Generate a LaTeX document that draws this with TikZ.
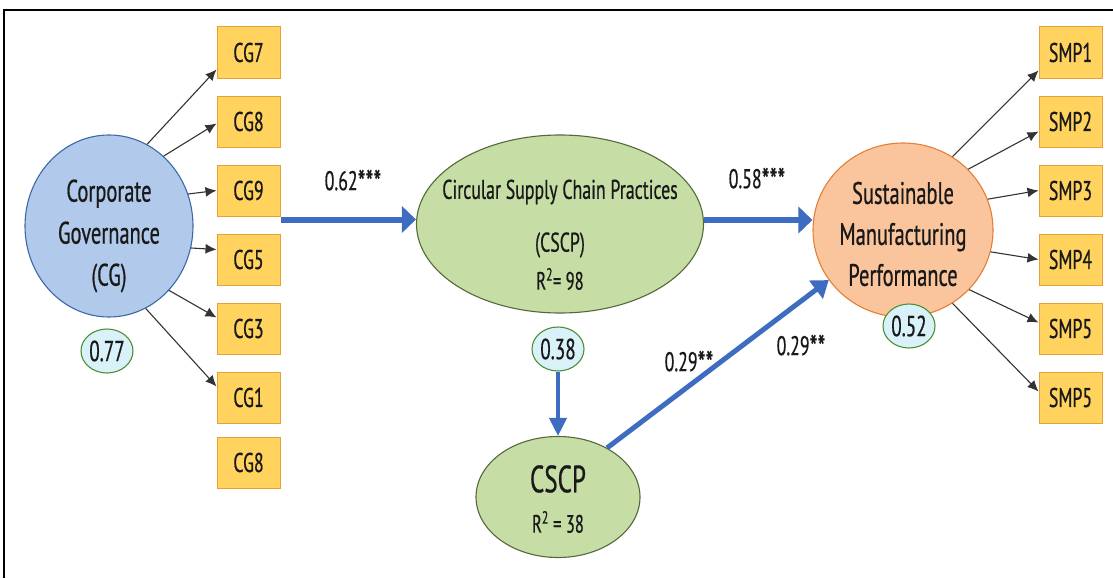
\documentclass[tikz,border=0pt]{standalone}
\usepackage{fontspec}
\setmainfont{PT Sans}[FakeStretch=0.66, FakeBold=0.6]
\usetikzlibrary{positioning,arrows.meta,shapes.geometric}

\definecolor{cgfill}{HTML}{B1C9EA}
\definecolor{cgdraw}{HTML}{3F68A8}
\definecolor{greenfill}{HTML}{C6DEA6}
\definecolor{greendraw}{HTML}{55683A}
\definecolor{smpfill}{HTML}{FAC59C}
\definecolor{smpdraw}{HTML}{E57E36}
\definecolor{boxfill}{HTML}{FFD35E}
\definecolor{boxdraw}{HTML}{E3A23A}
\definecolor{errfill}{HTML}{D9F1F8}
\definecolor{errdraw}{HTML}{4E8F34}
\definecolor{pathblue}{HTML}{3D6CC0}

\newcommand{\sig}[1]{{\fontsize{34}{34}\selectfont\raisebox{-4pt}{#1}}}

\begin{document}
\begin{tikzpicture}[
		x=1pt, y=-1pt,
		latent/.style={ellipse, inner sep=0pt, line width=1.1pt},
		ind/.style={rectangle, draw=boxdraw, fill=boxfill, line width=1pt, minimum width=63pt, minimum height=51pt,
			inner sep=0pt, text=black!90, font=\fontsize{27}{32}\selectfont},
		err/.style={ellipse, draw=errdraw, fill=errfill, line width=1.1pt, minimum width=52pt, minimum height=44pt,
			inner sep=0pt, text=black!90, font=\fontsize{29}{32}\selectfont},
		txt/.style={align=center, inner sep=0pt, text=black!90},
		coef/.style={inner sep=0pt, text=black!90, font=\fontsize{27}{32}\selectfont},
		loadarrow/.style={-{Latex[length=11pt,width=10pt]}, line width=1.1pt, draw=black!80},
		patharrow/.style={-{Triangle[length=14pt,width=26pt]}, line width=6pt, draw=pathblue}
		]
		
		\useasboundingbox (0,0) rectangle (1113,578);
		\draw[line width=1.5pt] (1113,10) -- (4,10) -- (4,578);
		
		% --- LATENT CONSTRUCTS ---
		\node[latent, draw=cgdraw, fill=cgfill, minimum width=168pt, minimum height=182pt] (CG) at (109,226) {};
		\node[txt, font=\fontsize{31}{42}\selectfont] (CG_txt) at (109,236) {Corporate\\Governance\\(CG)};
		
		\node[latent, draw=greendraw, fill=greenfill, minimum width=287pt, minimum height=178pt] (CSCP) at (560,224) {};
		\node[txt, font=\fontsize{27}{32}\selectfont] (CSCP_name) at (560,192) {Circular Supply Chain Practices};
		\node[txt, font=\fontsize{27}{32}\selectfont] (CSCP_abbr) at (560,245) {(CSCP)};
		\node[txt, font=\fontsize{25}{30}\selectfont] (CSCP_r2) at (560,279) {R\textsuperscript{2}= 98};
		
		\node[latent, draw=greendraw, fill=greenfill, minimum width=164pt, minimum height=121pt] (CSCPs) at (558,497) {};
		\node[txt, font=\fontsize{38}{40}\selectfont] (CSCPs_name) at (558,479) {CSCP};
		\node[txt, font=\fontsize{25}{30}\selectfont] (CSCPs_r2) at (558,522) {R\textsuperscript{2} = 38};
		
		\node[latent, draw=smpdraw, fill=smpfill, minimum width=180pt, minimum height=174pt] (SMP) at (903,230) {};
		\node[txt, font=\fontsize{31}{41}\selectfont] (SMP_txt) at (903,234) {Sustainable\\Manufacturing\\Performance};
		
		% --- ERROR / R2 BUBBLES ---
		\node[err] (e_CG) at (107,351) {0.77};
		\node[err] (e_CSCP) at (558,349) {0.38};
		\node[err] (e_SMP) at (909,326) {0.52};
		
		% --- CG INDICATORS ---
		\node[ind] (cg7) at (248.5,52.5) {CG7};
		\node[ind, below=17pt of cg7] (cg8) {CG8};
		\node[ind, below=17pt of cg8] (cg9) {CG9};
		\node[ind, below=17pt of cg9] (cg5) {CG5};
		\node[ind, below=17pt of cg5] (cg3) {CG3};
		\node[ind, below=17pt of cg3] (cg1) {CG1};
		\node[ind, below=13pt of cg1] (cg8b) {CG8};
		
		% --- SMP INDICATORS ---
		\node[ind] (smp1) at (1070.5,52.5) {SMP1};
		\node[ind, below=17pt of smp1] (smp2) {SMP2};
		\node[ind, below=17pt of smp2] (smp3) {SMP3};
		\node[ind, below=17pt of smp3] (smp4) {SMP4};
		\node[ind, below=17pt of smp4] (smp5) {SMP5};
		\node[ind, below=17pt of smp5] (smp5b) {SMP5};
		
		% --- LOADINGS ---
		\draw[loadarrow] (CG.65) -- ([yshift=-17pt]cg7.west);
		\draw[loadarrow] (CG.52) -- ([yshift=-2pt]cg8.west);
		\draw[loadarrow] (CG.22) -- (cg9.west);
		\draw[loadarrow] (CG.-15) -- ([yshift=10pt]cg5.west);
		\draw[loadarrow] (CG.-47) -- ([yshift=11pt]cg3.west);
		\draw[loadarrow] (CG.-66) -- ([yshift=11pt]cg1.west);
		
		\draw[loadarrow] (SMP.56) -- ([yshift=-18pt]smp1.west);
		\draw[loadarrow] (SMP.43) -- ([yshift=-10pt]smp2.west);
		\draw[loadarrow] (SMP.20) -- (smp3.west);
		\draw[loadarrow] (SMP.-14) -- (smp4.west);
		\draw[loadarrow] (SMP.-42) -- ([yshift=6pt]smp5.west);
		\draw[loadarrow] (SMP.-56) -- ([yshift=6pt]smp5b.west);
		
		% --- STRUCTURAL PATHS ---
		\draw[patharrow] ([yshift=-3pt]cg9.south east) -- ([yshift=-3pt]cg9.south east -| CSCP.west);
		\draw[patharrow] ([yshift=4pt]CSCP.east) -- ([yshift=4pt]CSCP.east -| SMP.west);
		\draw[patharrow, line width=4pt, -{Triangle[length=18pt,width=17pt]}] (e_CSCP.south) -- (CSCPs.north);
		\draw[patharrow, line width=5pt, -{Triangle[length=16pt,width=22pt]}] (CSCPs.45) -- (SMP.214);
		
		% --- COEFFICIENTS ---
		\node[coef] (b_CG_CSCP) at (353,182) {0.62\sig{***}};
		\node[coef] (b_CSCP_SMP) at (757,180) {0.58\sig{***}};
		\node[coef] (b_CSCPs_SMP) at (689,363) {0.29\sig{**}};
		\node[coef] (b_CSCPs_SMP2) at (801,347) {0.29\sig{**}};
		
	\end{tikzpicture}
\end{document}
